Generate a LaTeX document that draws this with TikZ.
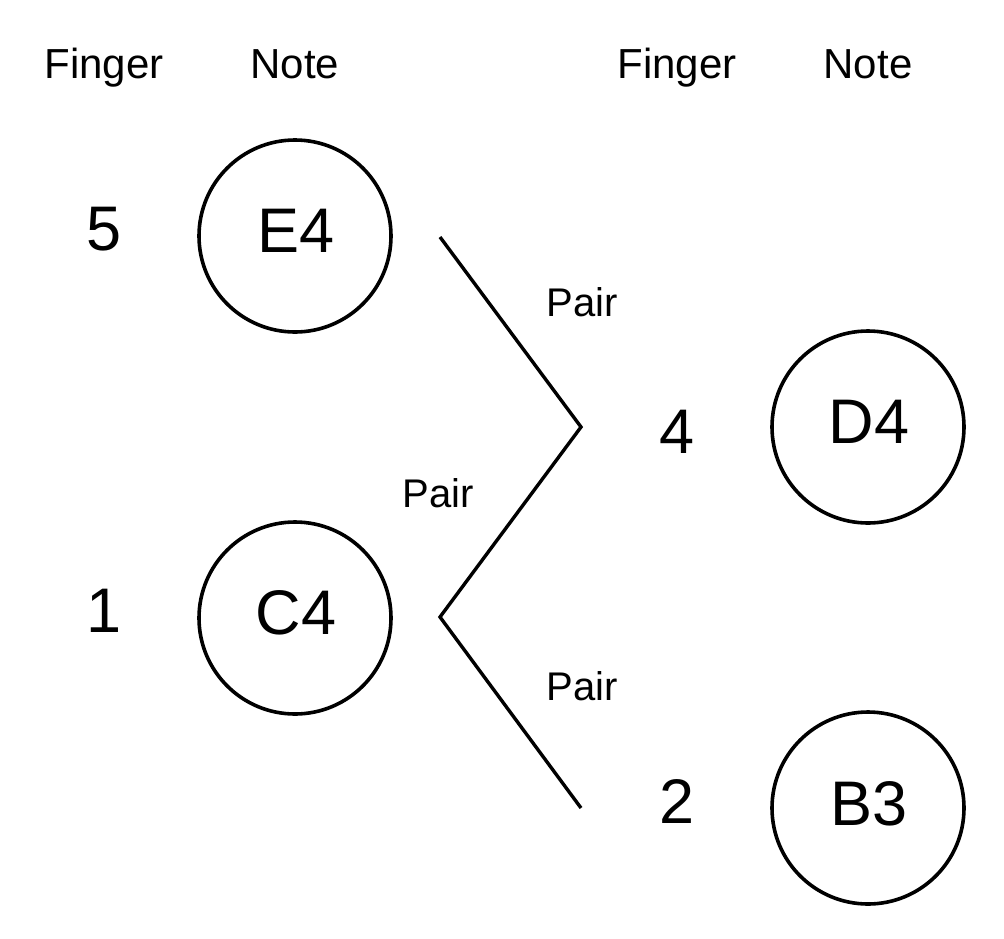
\documentclass[tikz,border=0pt]{standalone}
\usepackage{fontspec}
\setmainfont{Liberation Sans}
\begin{document}
\begin{tikzpicture}[x=1pt,y=-1pt,
  note/.style={circle,draw,line width=3.6pt,minimum size=192pt,inner sep=0pt},
  big/.style={anchor=base,inner sep=0pt,font=\fontsize{63}{63}\selectfont},
  head/.style={anchor=base,inner sep=0pt,font=\fontsize{42}{42}\selectfont},
  pairlbl/.style={anchor=base,inner sep=0pt,font=\fontsize{40}{40}\selectfont},
  link/.style={line width=3.4pt}]
\useasboundingbox (0,0) rectangle (1004,938);
\node[head] (h1) at (104,78) {Finger};
\node[head] (h2) at (295,78) {Note};
\node[head] (h3) at (677,78) {Finger};
\node[head] (h4) at (868,78) {Note};
\node[note] (e4) at (295,236) {};
\node[note] (c4) at (295,618) {};
\node[note] (d4) at (868,427) {};
\node[note] (b3) at (868,808) {};
\node[big] (e4t) at (296,252) {E4};
\node[big] (c4t) at (296,634) {C4};
\node[big] (d4t) at (869,443) {D4};
\node[big] (b3t) at (869,825) {B3};
\node[big] (f5) at (104,250) {5};
\node[big] (f1) at (104,632) {1};
\node[big] (f4) at (677,453) {4};
\node[big] (f2) at (677,823) {2};
\coordinate (p1) at (440,237);
\coordinate (p2) at (581,427);
\coordinate (p3) at (440,617);
\coordinate (p4) at (581,808);
\draw[link] (p1) -- (p2) -- (p3) -- (p4);
\node[pairlbl] (l1) at (582,316) {Pair};
\node[pairlbl] (l2) at (438,507) {Pair};
\node[pairlbl] (l3) at (582,700) {Pair};
\end{tikzpicture}
\end{document}
